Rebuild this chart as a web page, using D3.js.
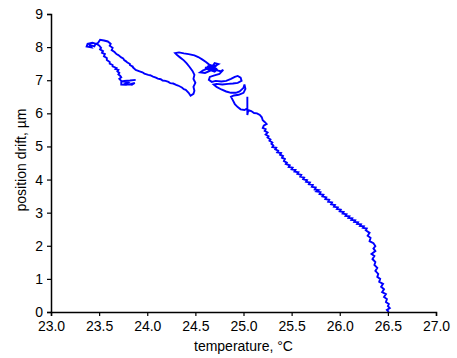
<!DOCTYPE html>
<html>
<head>
<meta charset="utf-8">
<script src="https://cdn.jsdelivr.net/npm/d3@7"></script>
<style>
  html, body { margin: 0; padding: 0; background: #fff; }
  svg { display: block; }
  text { font-family: "Liberation Sans", Arial, Helvetica, sans-serif; fill: #000; }
</style>
</head>
<body>
<svg id="chart" width="457" height="358"></svg>
<script>
// ---- data: [temperature °C, position drift µm] ----
const leftLoop = [
  [23.88,7.01],[23.82,6.99],[23.76,6.98],[23.73,6.95],[23.73,6.87],[23.78,6.86],[23.83,6.89],
  [23.87,6.92],[23.84,6.86],[23.77,6.89],[23.80,6.93],[23.73,6.98],[23.71,7.04],[23.73,7.09],
  [23.72,7.13],[23.70,7.18],[23.71,7.22],[23.69,7.27],[23.70,7.31],[23.67,7.34],[23.68,7.37],
  [23.64,7.42],[23.64,7.46],[23.61,7.50],[23.61,7.55],[23.58,7.61],[23.58,7.67],[23.55,7.72],
  [23.56,7.79],[23.53,7.83],[23.54,7.88],[23.51,7.93],[23.52,7.98],[23.50,8.05],[23.47,8.10],
  [23.43,8.13],[23.38,8.10],[23.37,8.02],[23.42,7.99],[23.40,8.07],[23.45,8.02],[23.46,8.08],
  [23.49,8.13],[23.51,8.22],[23.55,8.20],[23.59,8.17],[23.62,8.10],[23.61,8.04],[23.64,7.98],
  [23.63,7.91],[23.66,7.85],[23.68,7.79],[23.70,7.76],[23.73,7.69],[23.75,7.66],[23.76,7.61],
  [23.78,7.57],[23.79,7.54],[23.82,7.49],[23.82,7.46],[23.85,7.41],[23.85,7.39],[23.88,7.31],
  [23.92,7.27],[23.95,7.24],[23.97,7.20],[24.01,7.16],[24.03,7.15],[24.06,7.11],[24.09,7.08],
  [24.11,7.05],[24.14,7.03],[24.16,6.99],[24.19,6.98],[24.22,6.95],[24.24,6.91],[24.27,6.90],
  [24.30,6.86],[24.32,6.84],[24.34,6.81],[24.36,6.78],[24.38,6.73],[24.40,6.71],[24.43,6.62],
  [24.45,6.53]
];
const rightLoop = [
  [24.48,6.59],[24.49,6.68],[24.48,6.80],[24.50,6.92],[24.48,7.04],[24.49,7.16],[24.47,7.28],
  [24.44,7.40],[24.41,7.51],[24.38,7.60],[24.34,7.69],[24.31,7.76],[24.29,7.82],[24.33,7.84],
  [24.38,7.81],[24.43,7.79],[24.49,7.75],[24.53,7.70],[24.57,7.63],[24.61,7.55],[24.64,7.48],
  [24.68,7.43],[24.71,7.36]
];
const tangle = [
  [24.67,7.31],[24.62,7.34],[24.58,7.30],[24.55,7.24],[24.60,7.22],[24.65,7.28],[24.69,7.40],
  [24.74,7.49],[24.70,7.52],[24.68,7.42],[24.62,7.40],[24.66,7.45],[24.72,7.44],[24.66,7.36],
  [24.60,7.38],[24.64,7.32],[24.70,7.26],[24.73,7.34],[24.71,7.31],[24.76,7.27],[24.79,7.31],
  [24.75,7.19],[24.69,7.14],[24.65,7.10],[24.64,7.01],[24.67,6.95],[24.71,6.98],[24.77,6.96],
  [24.82,6.98],[24.87,7.04],[24.91,7.10],[24.94,7.13],[24.97,7.08],[24.98,6.98],[24.94,6.92],
  [24.89,6.90],[24.84,6.89],[24.78,6.87],[24.72,6.89],[24.69,6.87],[24.72,6.80],[24.77,6.72],
  [24.82,6.66],[24.87,6.62],[24.92,6.62],[24.96,6.66],[25.00,6.77],[25.01,6.87],[25.02,6.74],
  [25.00,6.62],[24.95,6.56],[24.90,6.54],[24.87,6.50],[24.89,6.39],[24.91,6.28],[24.94,6.19],
  [24.97,6.12],[25.01,6.10],[25.04,6.15],[25.04,6.50],[25.04,5.95],[25.05,6.10],[25.08,6.07],
  [25.11,6.01],[25.14,6.00],[25.17,5.95],[25.19,5.88],[25.20,5.79],[25.22,5.74],[25.24,5.68]
];
const descent = [
  [25.21,5.63],[25.20,5.56],[25.23,5.52],[25.22,5.47],[25.25,5.42],[25.23,5.36],[25.26,5.31],
  [25.25,5.27],[25.28,5.21],[25.27,5.17],[25.30,5.12],[25.29,5.08],[25.31,5.03],[25.30,4.98],
  [25.34,4.96],[25.33,4.91],[25.36,4.87],[25.35,4.82],[25.39,4.80],[25.38,4.75],[25.41,4.71],
  [25.40,4.66],[25.43,4.62],[25.42,4.56],[25.45,4.51],[25.44,4.47],[25.48,4.43],[25.47,4.38],
  [25.51,4.36],[25.50,4.31],[25.54,4.29],[25.53,4.24],[25.57,4.22],[25.56,4.17],[25.60,4.14],
  [25.59,4.09],[25.63,4.06],[25.62,4.01],[25.66,3.98],[25.65,3.93],[25.69,3.91],[25.68,3.86],
  [25.72,3.84],[25.71,3.78],[25.75,3.76],[25.74,3.70],[25.78,3.68],[25.76,3.64],[25.80,3.62],
  [25.79,3.56],[25.83,3.54],[25.82,3.49],[25.86,3.46],[25.85,3.41],[25.89,3.39],[25.88,3.33],
  [25.92,3.31],[25.91,3.25],[25.95,3.23],[25.94,3.18],[25.98,3.16],[25.97,3.11],[26.01,3.09],
  [26.00,3.04],[26.04,3.02],[26.03,2.97],[26.07,2.95],[26.06,2.90],[26.10,2.89],[26.09,2.84],
  [26.13,2.83],[26.12,2.78],[26.16,2.77],[26.15,2.72],[26.19,2.71],[26.18,2.66],[26.22,2.65],
  [26.21,2.60],[26.25,2.59],[26.24,2.54],[26.28,2.52],[26.27,2.47]
];
const bottomTail = [
  [26.31,2.39],[26.29,2.30],[26.32,2.24],[26.31,2.14],[26.35,2.08],[26.37,1.99],[26.35,1.92],
  [26.37,1.84],[26.33,1.75],[26.36,1.69],[26.34,1.60],[26.37,1.51],[26.36,1.42],[26.39,1.33],
  [26.37,1.24],[26.40,1.15],[26.39,1.06],[26.42,1.00],[26.41,0.91],[26.45,0.85],[26.43,0.76],
  [26.46,0.69],[26.44,0.60],[26.48,0.54],[26.46,0.45],[26.49,0.39],[26.48,0.30],[26.51,0.24],
  [26.50,0.18],[26.52,0.12],[26.49,0.06],[26.51,0.00]
];
const xTicks = [23.0, 23.5, 24.0, 24.5, 25.0, 25.5, 26.0, 26.5, 27.0];
const yTicks = [0, 1, 2, 3, 4, 5, 6, 7, 8, 9];
const xTitle = "temperature, \u00B0C";
const yTitle = "position drift, \u00B5m";

// ---- layout ----
const svg = d3.select("#chart");
const mLeft = 51, mRight = 436, mTop = 14, mBottom = 312;

const x = d3.scaleLinear().domain([23, 27]).range([mLeft, mRight]);
const y = d3.scaleLinear().domain([0, 9]).range([mBottom, mTop]);

const points = [].concat(leftLoop, rightLoop, tangle, descent, bottomTail);

// trace
svg.append("path")
  .datum(points)
  .attr("fill", "none")
  .attr("stroke", "#0000ff")
  .attr("stroke-width", 1.9)
  .attr("stroke-linejoin", "miter")
  .attr("d", d3.line().x(d => x(d[0])).y(d => y(d[1])));

// axes
const xAxis = svg.append("g")
  .attr("transform", `translate(0,${mBottom})`)
  .call(d3.axisBottom(x).tickValues(xTicks).tickFormat(d3.format(".1f")).tickSizeOuter(0).tickSize(4).tickPadding(5));
const yAxis = svg.append("g")
  .attr("transform", `translate(${mLeft},0)`)
  .call(d3.axisLeft(y).tickValues(yTicks).tickFormat(d3.format("d")).tickSizeOuter(0).tickSize(4).tickPadding(4));

[xAxis, yAxis].forEach(g => {
  g.select(".domain").attr("stroke", "#000").attr("stroke-width", 1.5);
  g.selectAll(".tick line").attr("stroke", "#000").attr("stroke-width", 1.2);
  g.selectAll(".tick text")
    .attr("font-family", "'Liberation Sans', Arial, Helvetica, sans-serif")
    .attr("font-size", 14).attr("fill", "#000");
});

// titles
svg.append("text")
  .attr("x", (mLeft + mRight) / 2).attr("y", 351)
  .attr("text-anchor", "middle")
  .attr("font-size", 14)
  .text(xTitle);

svg.append("text")
  .attr("transform", `translate(26,160) rotate(-90)`)
  .attr("text-anchor", "middle")
  .attr("font-size", 14)
  .text(yTitle);
</script>
</body>
</html>
